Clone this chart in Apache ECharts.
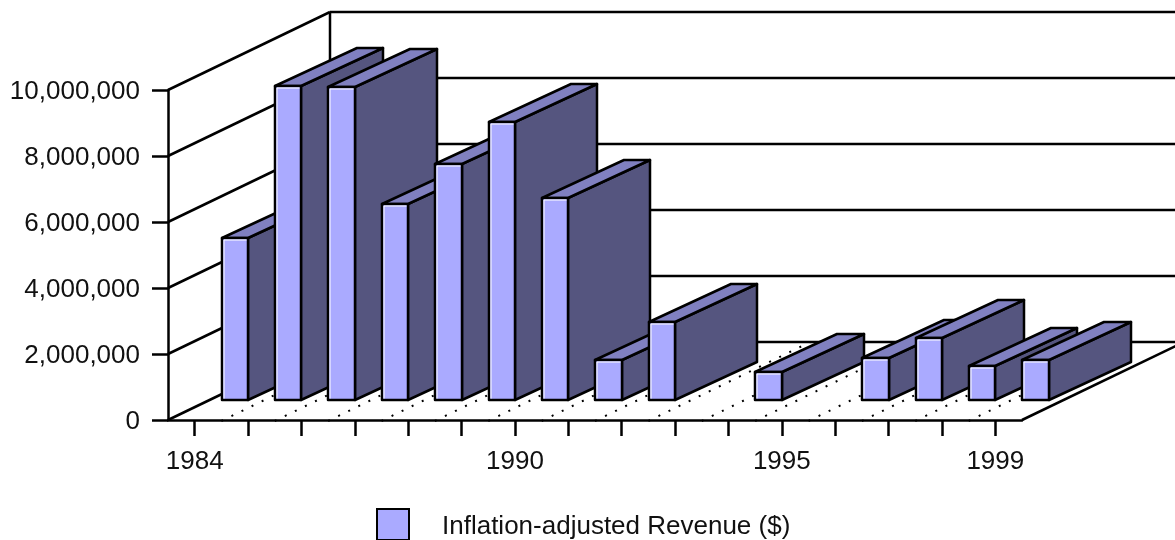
<!DOCTYPE html>
<html>
<head>
<meta charset="utf-8">
<style>html,body{margin:0;padding:0;background:#fff}#chart{width:1175px;height:540px}</style>
<script src="https://cdn.jsdelivr.net/npm/echarts@6/dist/echarts.min.js"></script>
</head>
<body>
<div id="chart"></div>
<script>
var categories = ['1984','1985','1986','1987','1988','1989','1990','1991','1992','1993','1994','1995','1996','1997','1998','1999'];
var revenue = [4900000,9530000,9500000,5950000,7150000,8420000,6120000,1210000,2360000,null,850000,null,1270000,1880000,1030000,1210000];
var shownYears = ['1984','1990','1995','1999'];
var yTicks = [0,2000000,4000000,6000000,8000000,10000000];
var seriesName = 'Inflation-adjusted Revenue ($)';

var FRONT = '#aaaaff', SIDE = '#55557f', TOP = '#8080c0', INK = '#000000';
var WALL_DX = 162, WALL_DY = -78, BAR_DX = 82, BAR_DY = -38, BAR_LIFT = 20, LW = 2.5;
var FONT = '"Liberation Sans", Arial, sans-serif';
var lineStyle = {stroke: INK, lineWidth: LW, fill: null};

function line(x1, y1, x2, y2, style) {
  return {type: 'line', shape: {x1: x1, y1: y1, x2: x2, y2: y2}, style: style || lineStyle};
}

var option = {
  animation: false,
  backgroundColor: '#fff',
  textStyle: {fontFamily: FONT},
  legend: {
    data: [seriesName],
    left: 376, top: 508, padding: 0,
    itemWidth: 32, itemHeight: 31,
    icon: 'rect',
    itemStyle: {color: FRONT, borderColor: INK, borderWidth: 2},
    formatter: function (n) { return '{t|' + n + '}'; },
    textStyle: {
      fontFamily: FONT, fontSize: 26, color: '#111', padding: [0, 0, 0, 28],
      rich: {t: {fontFamily: FONT, fontSize: 26, color: '#111', lineHeight: 30, padding: [4, 0, 0, 0]}}
    }
  },
  grid: {left: 168, right: 153, top: 90, bottom: 120},
  xAxis: {
    type: 'category',
    data: categories,
    axisLine: {lineStyle: {color: INK, width: LW}},
    axisTick: {show: true, interval: 0, alignWithLabel: true, length: 16, lineStyle: {color: INK, width: LW}},
    axisLabel: {
      margin: 29, fontSize: 26, color: '#111', fontFamily: FONT,
      interval: function (i, v) { return shownYears.indexOf(v) >= 0; }
    },
    splitLine: {show: false}
  },
  yAxis: {
    type: 'value',
    min: 0, max: 10000000, interval: 2000000,
    axisLine: {show: true, lineStyle: {color: INK, width: LW}},
    axisTick: {show: true, length: 16, lineStyle: {color: INK, width: LW}},
    axisLabel: {
      margin: 28, fontSize: 26, color: '#111', fontFamily: FONT,
      formatter: function (v) { return '{t|' + v.toLocaleString('en-US') + '}'; },
      rich: {t: {fontFamily: FONT, fontSize: 26, color: '#111', lineHeight: 30, padding: [4, 0, 0, 0]}}
    },
    splitLine: {show: false}
  },
  series: [
    {
      name: 'walls', type: 'custom', clip: false, silent: true, z: 1,
      data: yTicks.map(function (v) { return [0, v]; }),
      renderItem: function (params, api) {
        var y = Math.round(api.coord([0, api.value(1)])[1]);
        var x0 = params.coordSys.x, w = params.coordSys.width;
        var kids = [
          line(x0, y, x0 + WALL_DX, y + WALL_DY),
          line(x0 + WALL_DX, y + WALL_DY, x0 + WALL_DX + w, y + WALL_DY)
        ];
        if (params.dataIndex === 0) {
          var top = params.coordSys.y;
          kids.push(line(x0 + WALL_DX, y + WALL_DY, x0 + WALL_DX, top + WALL_DY));
          kids.push(line(x0 + w, y, x0 + w + WALL_DX, y + WALL_DY));
        }
        return {type: 'group', children: kids};
      }
    },
    {
      name: 'floor', type: 'custom', clip: false, silent: true, z: 2,
      data: categories.slice(1).map(function (c, i) { return [i + 1, 0]; }),
      renderItem: function (params, api) {
        var p = api.coord([api.value(0), 0]);
        var x = p[0] - api.size([1, 0])[0] / 2;
        return line(x, p[1] + 1, x + WALL_DX, p[1] + WALL_DY, {
          stroke: INK, lineWidth: 2, lineDash: [2, 9.2], fill: null
        });
      }
    },
    {
      name: seriesName, type: 'custom', clip: false, z: 3,
      itemStyle: {color: FRONT},
      encode: {x: 0, y: 1},
      data: revenue.map(function (v, i) { return [i, v]; }),
      renderItem: function (params, api) {
        var val = api.value(1);
        if (val == null || isNaN(val)) { return; }
        var idx = api.value(0);
        var band = api.size([1, 0])[0];
        var cx = api.coord([idx, 0])[0];
        var l = Math.round(cx + band * 0.505);
        var r = Math.round(cx + band);
        var b = Math.round(api.coord([idx, 0])[1]) - BAR_LIFT;
        var t = Math.round(api.coord([idx, val])[1]) - BAR_LIFT;
        function face(points, fill) {
          return {type: 'polygon', shape: {points: points},
                  style: {fill: fill, stroke: INK, lineWidth: LW, lineJoin: 'round'}};
        }
        var hi = {stroke: '#fff', lineWidth: 1, fill: null};
        return {type: 'group', children: [
          face([[r, b], [r + BAR_DX, b + BAR_DY], [r + BAR_DX, t + BAR_DY], [r, t]], SIDE),
          face([[l, t], [l + BAR_DX, t + BAR_DY], [r + BAR_DX, t + BAR_DY], [r, t]], TOP),
          face([[l, t], [r, t], [r, b], [l, b]], FRONT),
          line(l + 2, b - 1.5, l + 2, t + 2, hi),
          line(l + 2, t + 2, r - 1.5, t + 2, hi)
        ]};
      }
    }
  ]
};
echarts.init(document.getElementById('chart'), null, {renderer: 'canvas'}).setOption(option);
</script>
</body>
</html>
